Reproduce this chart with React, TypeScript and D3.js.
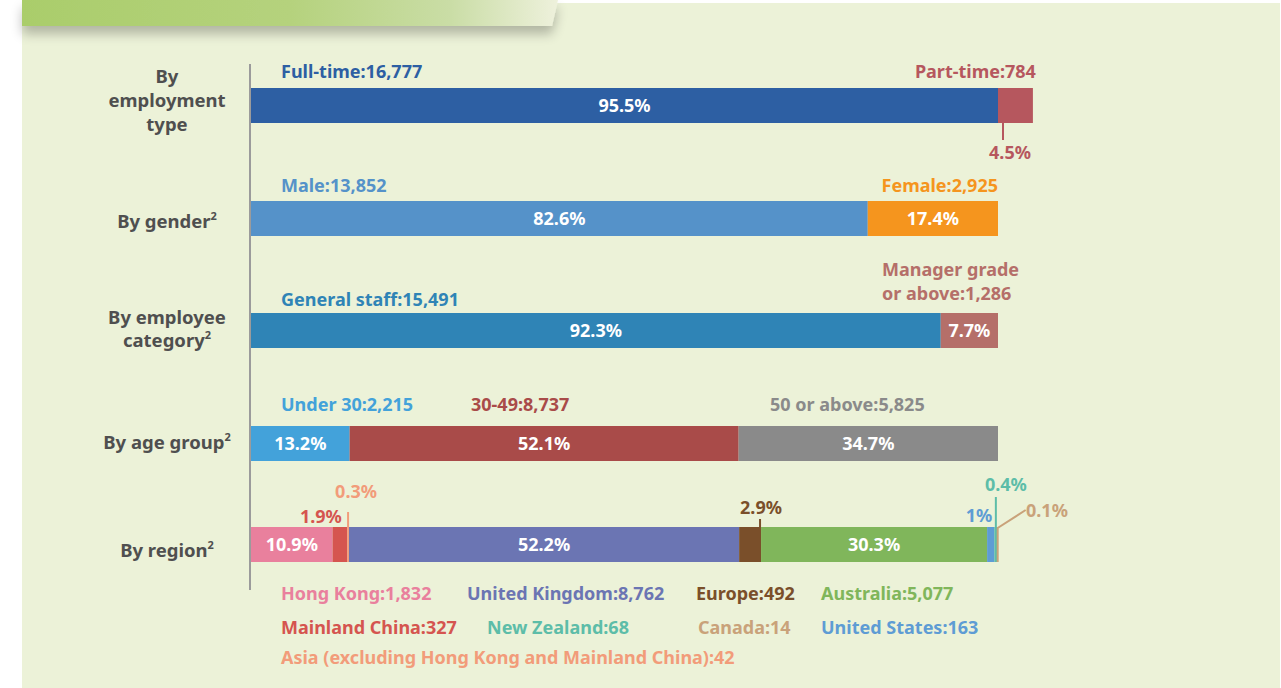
import React from "react";
import * as d3 from "d3";

// ---------- DATA ----------
const TOTAL_STAFF = 16777;

const categoryLines = [["By", "employment", "type"], ["By gender"], ["By employee", "category"], ["By age group"], ["By region"]];
const categoryFootnote = [false, true, true, true, true];

const employmentNames = ["Full-time", "Part-time"];
const employmentValues = [16777, 784];
const employmentPct = ["95.5%", "4.5%"];

const genderNames = ["Male", "Female"];
const genderValues = [13852, 2925];
const genderPct = ["82.6%", "17.4%"];

const staffCatNames = ["General staff", "Manager grade or above"];
const staffCatValues = [15491, 1286];
const staffCatPct = ["92.3%", "7.7%"];

const ageNames = ["Under 30", "30-49", "50 or above"];
const ageValues = [2215, 8737, 5825];
const agePct = ["13.2%", "52.1%", "34.7%"];

const regionNames = [
  "Hong Kong",
  "Mainland China",
  "Asia (excluding Hong Kong and Mainland China)",
  "United Kingdom",
  "Europe",
  "Australia",
  "United States",
  "New Zealand",
  "Canada",
];
const regionValues = [1832, 327, 42, 8762, 492, 5077, 163, 68, 14];
const regionPct = ["10.9%", "1.9%", "0.3%", "52.2%", "2.9%", "30.3%", "1%", "0.4%", "0.1%"];

// ---------- STYLE / LAYOUT ----------
const employmentColors = ["#2D5FA3", "#B6575E"];
const genderColors = ["#5592C9", "#F5951E"];
const staffCatColors = ["#2F84B6", "#B56F69"];
const ageColors = ["#43A2DA", "#A94B49", "#8A8A8A"];
const regionColors = ["#E9809D", "#D5554F", "#F29C7A", "#6B75B3", "#7A4F2A", "#80B65B", "#5E9CD4", "#5DBDA8", "#C9A27A"];

const FONT = "'Noto Sans', 'Open Sans', sans-serif";
const W = 1281;
const H = 688;
const rowY = [88, 201, 313, 426, 527];
const categoryBaselines = [[83, 107, 131], [228], [324, 347], [449], [557]];
const BAR_H = 35;
const X0 = 251;
const X1 = 998;

const fmt = d3.format(",");

function stackSegs(values: number[], x: d3.ScaleLinear<number, number>) {
  let acc = 0;
  return values.map((v) => {
    const s = { x0: x(acc), x1: x(acc + v) };
    acc += v;
    return s;
  });
}

export default function App() {
  const x = d3.scaleLinear().domain([0, TOTAL_STAFF]).range([X0, X1]);

  const rows = [
    { values: employmentValues, colors: employmentColors, pct: employmentPct, inside: [true, false] },
    { values: genderValues, colors: genderColors, pct: genderPct, inside: [true, true] },
    { values: staffCatValues, colors: staffCatColors, pct: staffCatPct, inside: [true, true] },
    { values: ageValues, colors: ageColors, pct: agePct, inside: [true, true, true] },
    { values: regionValues, colors: regionColors, pct: regionPct, inside: [true, false, false, true, false, true, false, false, false] },
  ];

  const segs = rows.map((r) => stackSegs(r.values, x));
  const reg = segs[4];
  const ry = rowY[4];
  const emp = segs[0];

  const label = (txt: string, xx: number, yy: number, color: string, anchor: "start" | "end" | "middle" = "start", size = 18) => (
    <text x={xx} y={yy} fill={color} fontSize={size} fontWeight={700} textAnchor={anchor} fontFamily={FONT}>
      {txt}
    </text>
  );

  return (
    <svg width={W} height={H} style={{ position: "absolute", left: 0, top: 0, display: "block" }}>
      <defs>
        <linearGradient id="ban" x1="0" x2="1" y1="0" y2="0">
          <stop offset="0" stopColor="#AACD6B" />
          <stop offset="0.5" stopColor="#B5D27D" />
          <stop offset="0.8" stopColor="#CADDA6" />
          <stop offset="1" stopColor="#EEF1DC" />
        </linearGradient>
        <filter id="shadow" x="-0.1" y="-0.5" width="1.2" height="2.5">
          <feGaussianBlur in="SourceAlpha" stdDeviation="6" />
          <feOffset dx="0" dy="8" result="b" />
          <feComponentTransfer>
            <feFuncA type="linear" slope="0.25" />
          </feComponentTransfer>
          <feMerge>
            <feMergeNode />
            <feMergeNode in="SourceGraphic" />
          </feMerge>
        </filter>
      </defs>
      <rect x={0} y={0} width={W} height={H} fill="#FFFFFF" />
      <rect x={22} y={3} width={W - 23} height={H} fill="#ECF2D8" />
      <polygon points="22,0 558,0 552,26 22,26" fill="url(#ban)" filter="url(#shadow)" />

      {/* category labels */}
      {categoryLines.map((lines, i) => {
        const n = lines.length;
        return (
          <text key={i} fontFamily={FONT} fontSize={18.5} fontWeight={700} fill="#4F4F4F" textAnchor="middle">
            {lines.map((l, j) => (
              <tspan key={j} x={167} y={categoryBaselines[i][j]}>
                {l}
                {categoryFootnote[i] && j === n - 1 ? (
                  <tspan fontSize={11} dy={-8}>
                    2
                  </tspan>
                ) : null}
              </tspan>
            ))}
          </text>
        );
      })}

      {/* axis */}
      <line x1={250} x2={250} y1={64} y2={590} stroke="#9B9B9B" strokeWidth={2} />

      {/* bars */}
      {rows.map((r, i) =>
        segs[i].map((s, j) => (
          <rect key={`${i}-${j}`} x={s.x0} y={rowY[i]} width={Math.max(0, s.x1 - s.x0)} height={BAR_H} fill={r.colors[j]} />
        ))
      )}

      {/* inside percent labels */}
      {rows.map((r, i) =>
        segs[i].map((s, j) =>
          r.inside[j] ? (
            <text key={`p${i}-${j}`} x={(s.x0 + s.x1) / 2} y={rowY[i] + BAR_H / 2 + 6.5} fill="#FFFFFF" fontSize={18} fontWeight={700} textAnchor="middle" fontFamily={FONT}>
              {r.pct[j]}
            </text>
          ) : null
        )
      )}

      {/* row 1 labels */}
      {label(`${employmentNames[0]}:${fmt(employmentValues[0])}`, 281, 78, employmentColors[0])}
      {label(`${employmentNames[1]}:${fmt(employmentValues[1])}`, emp[1].x1 + 3, 78, employmentColors[1], "end")}
      <line x1={emp[1].x0 + 5} x2={emp[1].x0 + 5} y1={rowY[0] + BAR_H} y2={rowY[0] + BAR_H + 17} stroke={employmentColors[1]} strokeWidth={2} />
      {label(employmentPct[1], emp[1].x0 + 12, 159, employmentColors[1], "middle")}

      {/* row 2 labels */}
      {label(`${genderNames[0]}:${fmt(genderValues[0])}`, 281, 192, genderColors[0])}
      {label(`${genderNames[1]}:${fmt(genderValues[1])}`, segs[1][1].x1, 192, genderColors[1], "end")}

      {/* row 3 labels */}
      {label(`${staffCatNames[0]}:${fmt(staffCatValues[0])}`, 281, 306, staffCatColors[0])}
      <text fill={staffCatColors[1]} fontSize={18} fontWeight={700} fontFamily={FONT}>
        <tspan x={882} y={276}>Manager grade</tspan>
        <tspan x={882} y={300}>{`or above:${fmt(staffCatValues[1])}`}</tspan>
      </text>

      {/* row 4 labels */}
      {label(`${ageNames[0]}:${fmt(ageValues[0])}`, 281, 411, ageColors[0])}
      {label(`${ageNames[1]}:${fmt(ageValues[1])}`, 471, 411, ageColors[1])}
      {label(`${ageNames[2]}:${fmt(ageValues[2])}`, 770, 411, ageColors[2])}

      {/* row 5 outside labels */}
      {label(regionPct[1], (reg[1].x0 + reg[1].x1) / 2 + 2, 523, regionColors[1], "end")}
      <line x1={(reg[2].x0 + reg[2].x1) / 2} x2={(reg[2].x0 + reg[2].x1) / 2} y1={ry} y2={ry - 15} stroke={regionColors[2]} strokeWidth={2} />
      {label(regionPct[2], (reg[2].x0 + reg[2].x1) / 2 + 8, 498, regionColors[2], "middle")}
      <line x1={reg[4].x1 - 1} x2={reg[4].x1 - 1} y1={ry} y2={ry - 8} stroke={regionColors[4]} strokeWidth={2} />
      {label(regionPct[4], reg[4].x1, 514, regionColors[4], "middle")}
      {label(regionPct[6], reg[6].x1 - 2, 522, regionColors[6], "end")}
      <line x1={(reg[7].x0 + reg[7].x1) / 2} x2={(reg[7].x0 + reg[7].x1) / 2} y1={ry} y2={ry - 30} stroke={regionColors[7]} strokeWidth={2} />
      {label(regionPct[7], (reg[7].x0 + reg[7].x1) / 2 + 10, 491, regionColors[7], "middle")}
      <polyline
        points={`${(reg[8].x0 + reg[8].x1) / 2},${ry + BAR_H} ${(reg[8].x0 + reg[8].x1) / 2},${ry + 1} ${(reg[8].x0 + reg[8].x1) / 2 + 28},${ry - 17}`}
        fill="none"
        stroke={regionColors[8]}
        strokeWidth={2}
      />
      {label(regionPct[8], reg[8].x1 + 28, 517, regionColors[8], "start")}

      {/* region legend */}
      {label(`${regionNames[0]}:${fmt(regionValues[0])}`, 281, 600, regionColors[0])}
      {label(`${regionNames[3]}:${fmt(regionValues[3])}`, 467, 600, regionColors[3])}
      {label(`${regionNames[4]}:${fmt(regionValues[4])}`, 696, 600, regionColors[4])}
      {label(`${regionNames[5]}:${fmt(regionValues[5])}`, 821, 600, regionColors[5])}
      {label(`${regionNames[1]}:${fmt(regionValues[1])}`, 281, 634, regionColors[1])}
      {label(`${regionNames[7]}:${fmt(regionValues[7])}`, 487, 634, regionColors[7])}
      {label(`${regionNames[8]}:${fmt(regionValues[8])}`, 698, 634, regionColors[8])}
      {label(`${regionNames[6]}:${fmt(regionValues[6])}`, 821, 634, regionColors[6])}
      {label(`${regionNames[2]}:${fmt(regionValues[2])}`, 281, 664, regionColors[2])}
    </svg>
  );
}
